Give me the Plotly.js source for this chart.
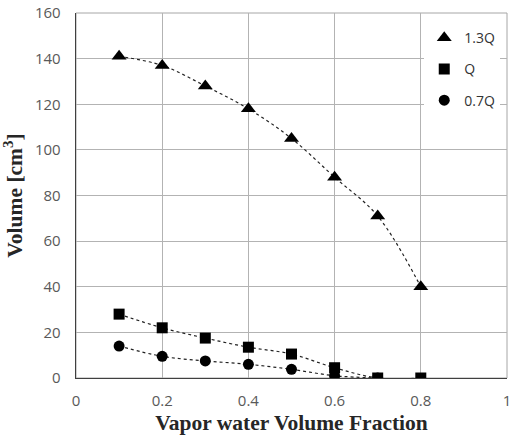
<!DOCTYPE html>
<html>
<head>
<meta charset="utf-8">
<script src="https://cdn.plot.ly/plotly-3.0.1.min.js"></script>
<style>html,body{margin:0;padding:0;background:#fff}</style>
</head>
<body>
<div id="chart" style="width:510px;height:441px"></div>
<script>
var fractions = [0.1, 0.2, 0.3, 0.4, 0.5, 0.6, 0.7, 0.8];
var vol13Q = [141, 137, 128, 118, 105, 88, 71, 40];
var volQ = [28, 22, 17.5, 13.5, 10.5, 4.5, 0, 0];
var fractions07 = [0.1, 0.2, 0.3, 0.4, 0.5, 0.6, 0.7];
var vol07Q = [14, 9.5, 7.5, 6, 3.8, 1, 0];
var seriesNames = ['1.3Q', 'Q', '0.7Q'];
var xTicks = [0, 0.2, 0.4, 0.6, 0.8, 1];
var xTickLabels = ['0', '0.2', '0.4', '0.6', '0.8', '1'];
var yTicks = [0, 20, 40, 60, 80, 100, 120, 140, 160];

var trendStyle = {color: '#222', width: 1.2, dash: 'dot', shape: 'spline'};
function trend(x, y) {
  return {x: x, y: y, type: 'scatter', mode: 'lines', line: trendStyle,
          showlegend: false, hoverinfo: 'skip'};
}
function pts(x, y, name, sym, size, grp, rank) {
  return {x: x, y: y, type: 'scatter', mode: 'markers', name: name, legendgroup: grp,
          legendrank: rank, marker: {symbol: sym, size: size, color: '#000'}};
}
var data = [
  trend(fractions, vol13Q), trend(fractions, volQ), trend(fractions07, vol07Q),
  pts(fractions07, vol07Q, seriesNames[2], 'circle', 11, 'c', 3),
  pts(fractions, volQ, seriesNames[1], 'square', 11, 'b', 2),
  pts(fractions, vol13Q, seriesNames[0], 'triangle-up', 13, 'a', 1)
];
var tickFont = {family: 'Open Sans, sans-serif', size: 15, color: '#595959'};
var titleFont = {family: 'Liberation Serif, serif', size: 21.5, color: '#262626', weight: 'bold'};
var layout = {
  width: 510, height: 441,
  margin: {l: 76, r: 3, t: 13, b: 63},
  paper_bgcolor: '#fff', plot_bgcolor: '#fff',
  showlegend: true,
  shapes: [{type: 'rect', xref: 'paper', yref: 'paper', x0: 0, x1: 1, y0: 0, y1: 1,
            line: {color: '#a6a6a6', width: 1}, layer: 'below'}],
  xaxis: {
    range: [0, 1], tickmode: 'array', tickvals: xTicks, ticktext: xTickLabels,
    ticklabeloverflow: 'allow',
    showgrid: true, gridcolor: '#b3b3b3', gridwidth: 1,
    zeroline: false, showline: true, linecolor: '#404040', linewidth: 1.3,
    ticks: 'outside', ticklen: 9, tickcolor: 'rgba(0,0,0,0)',
    tickfont: tickFont,
    title: {text: '<b>Vapor water Volume Fraction</b>', font: titleFont, standoff: 5}
  },
  yaxis: {
    range: [0, 160], tickmode: 'array', tickvals: yTicks,
    ticklabeloverflow: 'allow',
    showgrid: true, gridcolor: '#b3b3b3', gridwidth: 1,
    zeroline: false, showline: true, linecolor: '#404040', linewidth: 1.3,
    ticks: 'outside', ticklen: 11, tickcolor: 'rgba(0,0,0,0)',
    tickfont: tickFont,
    title: {text: '<b>Volume [cm<sup>3</sup>]</b>', font: titleFont, standoff: 7}
  },
  legend: {
    x: 0.808, xanchor: 'left', y: 0.975, yanchor: 'top',
    bgcolor: '#fff', borderwidth: 0,
    traceorder: 'grouped', tracegroupgap: 10,
    font: {family: 'Open Sans, sans-serif', size: 14, color: '#333'},
    itemwidth: 30
  }
};
Plotly.newPlot('chart', data, layout, {displayModeBar: false, staticPlot: true});
</script>
</body>
</html>
